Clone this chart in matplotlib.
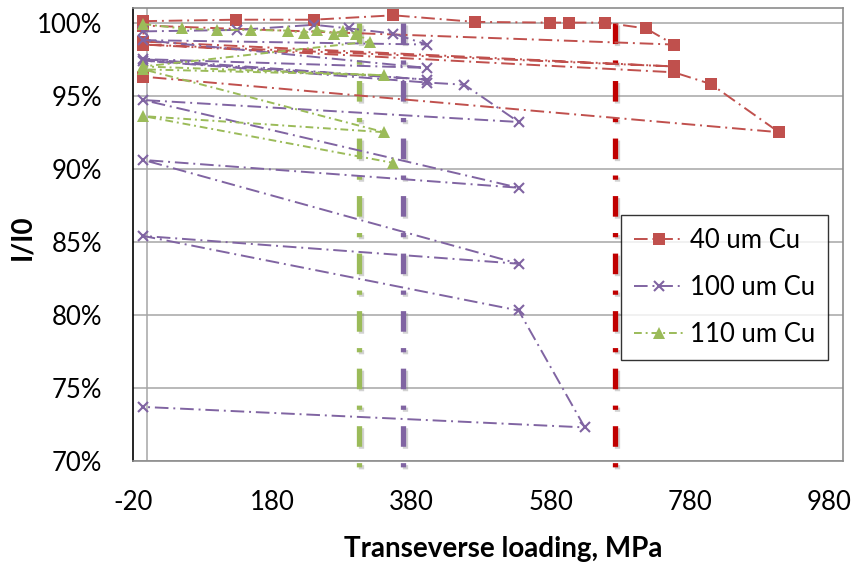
import matplotlib
matplotlib.use('Agg')
import matplotlib.pyplot as plt
import matplotlib.patheffects as pe
from matplotlib.ticker import FuncFormatter

plt.rcParams['font.family'] = ['Lato', 'DejaVu Sans']
plt.rcParams['axes.unicode_minus'] = False

# ---- data ----
cu40_x = [-5, 128, 240, 354, 471, 579, 606, 658, 717, 757, -5, -5, 757, -5, 757, 810, 908, -5]
cu40_y = [100.1, 100.2, 100.2, 100.5, 100.05, 100.0, 100.0, 100.0, 99.6, 98.5, 99.8,
          98.7, 97.0, 98.5, 96.6, 95.8, 92.5, 96.3]

cu100_x = [-5, 130, 240, 291, 354, 402, -5, 402, -5, 402, -5, 402, 456, 534, -5, 534, -5, 534,
           -5, 534, 629, -5]
cu100_y = [99.4, 99.5, 99.85, 99.6, 99.25, 98.5, 98.8, 96.9, 97.5, 96.1, 97.4, 95.9, 95.75,
           93.2, 94.7, 88.7, 90.6, 83.5, 85.4, 80.3, 72.3, 73.7]

cu110_x = [-5, 50, 101, 150, 202, 226, 245, 269, 281, 301, 320, -5, 341, -5, 341, -5, 354]
cu110_y = [99.9, 99.6, 99.5, 99.5, 99.45, 99.3, 99.5, 99.25, 99.45, 99.25, 98.7, 97.0, 96.4,
           96.8, 92.5, 93.6, 90.4]

series_labels = ['40 um Cu', '100 um Cu', '110 um Cu']

limit_x = [304, 368, 673]          # vertical limit lines (110, 100, 40 um)
limit_y = [100.0, 69.0]

x_ticks = [-20, 180, 380, 580, 780, 980]
y_ticks = [70, 75, 80, 85, 90, 95, 100]

# ---- styling ----
c_red = '#C0504D'
c_purple = '#8064A2'
c_green = '#9BBB59'
limit_colors = [c_green, c_purple, '#C00000']

fig = plt.figure(figsize=(8.66, 5.69), dpi=100)
ax = fig.add_axes([133/866, 1-461/569, 710/866, 453/569])

ax.set_xlim(-20, 1000)
ax.set_ylim(70, 101)

# grid
for yt in y_ticks:
    ax.axhline(yt, color='#A6A6A6', lw=1.1, zorder=0)
ax.axvline(0, color='#A6A6A6', lw=1.1, zorder=0)

# vertical limit lines
for xv, col in zip(limit_x, limit_colors):
    ax.plot([xv, xv], limit_y, color=col, lw=3.8,
            linestyle=(0, (3.9, 3.1, 0.8, 3.1)), clip_on=False, zorder=2,
            path_effects=[pe.SimpleLineShadow(offset=(1.5, -1.5), shadow_color='gray',
                                              alpha=0.35), pe.Normal()])

ax.plot(cu40_x, cu40_y, color=c_red, lw=1.4, linestyle=(0, (7, 2.5, 1, 2.5)),
        marker='s', markersize=8, markeredgewidth=0, label=series_labels[0], zorder=3,
        clip_on=False)
ax.plot(cu100_x, cu100_y, color=c_purple, lw=1.4, linestyle=(0, (7, 2.5, 1, 2.5)),
        marker='x', markersize=7, markeredgewidth=1.5, label=series_labels[1], zorder=3,
        clip_on=False)
ax.plot(cu110_x, cu110_y, color=c_green, lw=1.4, linestyle=(0, (4, 2, 1, 2)),
        marker='^', markersize=8, markeredgewidth=0, label=series_labels[2], zorder=3,
        clip_on=False)

ax.set_xticks(x_ticks)
ax.set_yticks(y_ticks)
ax.yaxis.set_major_formatter(FuncFormatter(lambda v, p: f'{v:.0f}%'))
ax.tick_params(axis='both', length=0, labelsize=18.5, colors='black')
ax.tick_params(axis='y', pad=22)
ax.tick_params(axis='x', pad=21)

for s in ['top', 'right', 'bottom']:
    ax.spines[s].set_color('#8C8C8C')
    ax.spines[s].set_linewidth(1.2)
ax.spines['left'].set_color('black')
ax.spines['left'].set_linewidth(1.2)

fig.text(503/866, 1-549/569, 'Transeverse loading, MPa', ha='center', va='center',
         fontsize=20, fontweight='bold')
fig.text(22/866, 1-237/569, 'I/I0', ha='center', va='center', rotation=90,
         fontsize=20, fontweight='bold')

leg = ax.legend(loc='upper left', bbox_to_anchor=((621-133)/710, (461-215)/453),
                fontsize=18.5, frameon=True, fancybox=False, edgecolor='black',
                handlelength=1.95, handletextpad=0.25, labelspacing=0.86,
                borderpad=0.5, borderaxespad=0, numpoints=1)
leg.get_frame().set_linewidth(1.0)

fig.savefig('out.png', dpi=100)
